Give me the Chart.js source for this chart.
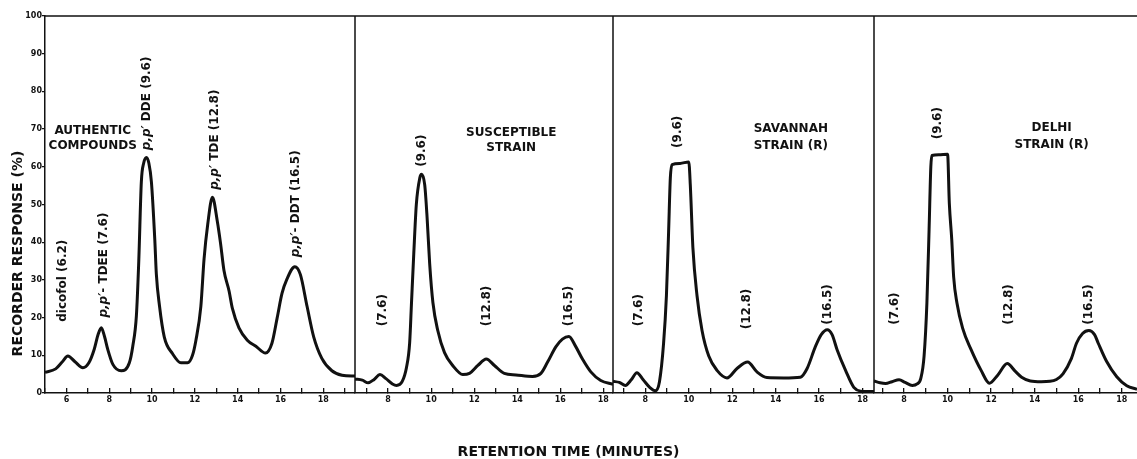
<!DOCTYPE html>
<html>
<head>
<meta charset="utf-8">
<script src="https://cdn.jsdelivr.net/npm/chart.js@4.4.0/dist/chart.umd.min.js"></script>
<style>
  html, body { margin: 0; padding: 0; background: #fff; }
  #wrap { position: relative; width: 1137px; height: 459px; }
</style>
</head>
<body>
<div id="wrap"><canvas id="myChart"></canvas></div>
<script>
"use strict"

// retention time (minutes) / recorder response (%)
const authenticTimes = [5.0, 5.5, 5.8, 6.07, 6.4, 6.77, 7.05, 7.3, 7.48, 7.63, 7.78, 7.93, 8.17, 8.56, 8.94,
  9.1, 9.27, 9.38, 9.5, 9.61, 9.74, 9.85, 9.97, 10.13, 10.2, 10.35, 10.57, 10.96, 11.35, 11.66, 11.89,
  12.05, 12.28, 12.43, 12.6, 12.82, 13.05, 13.2, 13.36, 13.6, 13.75, 14.06, 14.45, 14.85, 15.3, 15.6,
  15.84, 16.07, 16.3, 16.67, 16.93, 17.24, 17.55, 17.93, 18.4, 18.87, 19.33, 19.48];
const authenticResponse = [5.5, 6.4, 8.2, 9.8, 8.3, 6.7, 8.0, 11.6, 15.5, 17.3, 15.0, 11.6, 7.6, 5.9, 8.0,
  12.4, 20.6, 35, 56, 61, 62.5, 61, 56, 40.5, 31.6, 23.0, 14.9, 10.4, 8.0, 8.0, 10.0,
  14.0, 23.0, 35.6, 44.7, 51.9, 45.5, 39.7, 32.5, 27.0, 22.5, 17.3, 14.0, 12.4, 10.6, 13.2,
  19.8, 26.4, 30.2, 33.5, 31.4, 23.0, 14.9, 9.2, 5.9, 4.7, 4.5, 4.5];

const susceptibleTimes = [6.46, 6.8, 7.07, 7.35, 7.62, 7.9, 8.2, 8.39, 8.65, 8.85, 9.0, 9.08, 9.19, 9.31,
  9.47, 9.55, 9.7, 9.81, 9.93, 10.08, 10.31, 10.62, 11.0, 11.47, 11.78, 12.17, 12.56, 12.94, 13.4,
  13.94, 14.71, 15.1, 15.41, 15.8, 16.1, 16.4, 16.72, 17.03, 17.42, 17.88, 18.45];
const susceptibleResponse = [3.7, 3.4, 2.7, 3.6, 4.9, 3.8, 2.4, 2.0, 3.0, 6.7, 13.3, 23.2, 36.8, 50,
  57, 58, 55.2, 46.6, 34.3, 24, 16.5, 10.7, 7.3, 4.9, 5.2, 7.3, 9.0, 7.3, 5.2,
  4.8, 4.4, 5.2, 8.2, 12.3, 14.3, 15.0, 12.3, 9.0, 5.6, 3.3, 2.3];

const savannahTimes = [6.51, 6.8, 7.08, 7.35, 7.61, 7.9, 8.2, 8.46, 8.65, 8.84, 8.97, 9.07, 9.15, 9.23,
  9.6, 10.0, 10.07, 10.19, 10.38, 10.61, 10.92, 11.3, 11.76, 12.22, 12.71, 13.14, 13.6, 14.37, 15.14,
  15.45, 15.83, 16.1, 16.38, 16.6, 16.83, 17.22, 17.6, 17.91, 18.2, 18.53];
const savannahResponse = [3.1, 2.8, 2.0, 3.5, 5.4, 3.5, 1.5, 0.6, 3.0, 13.2, 25.8, 42.6, 57, 60.6,
  60.9, 61.3, 55.2, 38.5, 25.8, 16.6, 9.8, 6.0, 4.0, 6.5, 8.2, 5.6, 4.1, 4.0, 4.2,
  6.5, 12.3, 15.5, 16.8, 15.5, 11.5, 6.0, 1.5, 0.5, 0.4, 0.4];

const delhiTimes = [6.62, 6.9, 7.15, 7.45, 7.77, 8.05, 8.38, 8.6, 8.77, 8.92, 9.05, 9.15, 9.23, 9.28,
  9.6, 10.0, 10.08, 10.19, 10.28, 10.43, 10.69, 11.08, 11.54, 11.92, 12.31, 12.74, 13.1, 13.4, 13.8,
  14.3, 14.7, 15.0, 15.3, 15.69, 15.92, 16.2, 16.49, 16.75, 16.92, 17.3, 17.77, 18.23, 18.7];
const delhiResponse = [3.2, 2.7, 2.5, 3.0, 3.5, 2.8, 2.0, 2.4, 3.9, 9.8, 23.9, 43.3, 60, 63,
  63.2, 63.3, 50.3, 40.8, 30.7, 23.9, 17.2, 11.5, 6.0, 2.6, 4.8, 7.8, 5.8, 4.2, 3.2,
  3.0, 3.1, 3.6, 5.1, 9.2, 13.2, 15.8, 16.6, 15.5, 13.2, 8.4, 4.3, 1.9, 1.0];

// visible time window of each panel (minutes)
const authenticRange = [5, 19.48];
const susceptibleRange = [6.46, 18.45];
const savannahRange = [6.51, 18.53];
const delhiRange = [6.62, 18.7];

// peak labels: italic prefix, text, retention time, response level where the text starts
const authenticLabelPrefix = ["", "p,p′", "p,p′", "p,p′", "p,p′"];
const authenticLabelText = ["dicofol (6.2)", "- TDEE (7.6)", " DDE (9.6)", " TDE (12.8)", "- DDT (16.5)"];
const authenticLabelTime = [5.83, 7.74, 9.75, 12.93, 16.71];
const authenticLabelLevel = [18.9, 20, 64.4, 53.9, 36];

const susceptibleLabelText = ["(7.6)", "(9.6)", "(12.8)", "(16.5)"];
const susceptibleLabelTime = [7.75, 9.56, 12.57, 16.41];
const susceptibleLabelLevel = [17.7, 60, 17.7, 17.7];

const savannahLabelText = ["(7.6)", "(9.6)", "(12.8)", "(16.5)"];
const savannahLabelTime = [7.69, 9.49, 12.67, 16.4];
const savannahLabelLevel = [17.7, 65, 16.9, 18.1];

const delhiLabelText = ["(7.6)", "(9.6)", "(12.8)", "(16.5)"];
const delhiLabelTime = [7.58, 9.57, 12.8, 16.49];
const delhiLabelLevel = [18.1, 67.3, 18.1, 18.1];

// panel captions: two lines, centre time, level of each line
const panelCaptions = [["AUTHENTIC", "COMPOUNDS"], ["SUSCEPTIBLE", "STRAIN"], ["SAVANNAH", "STRAIN (R)"], ["DELHI", "STRAIN (R)"]];
const panelCaptionTime = [7.23, 13.72, 14.7, 14.78];
const panelCaptionLevels = [[69.5, 65.5], [69, 65], [70, 65.6], [70.3, 65.8]];

const yAxisTitle = "RECORDER RESPONSE (%)";
const xAxisTitle = "RETENTION TIME (MINUTES)";

// layout: relative widths of the four panels
const panelWidths = [310, 258, 261, 263];

const ink = '#111';
const fontFamily = "'DejaVu Sans', sans-serif";
const axisIds = ['x1', 'x2', 'x3', 'x4'];

function makeDataset(name, times, values, axisId) {
  return {
    label: name,
    data: times.map((t, i) => ({ x: t, y: values[i] })),
    xAxisID: axisId,
    yAxisID: 'y',
    borderColor: ink,
    borderWidth: 3,
    pointRadius: 0,
    fill: false,
    cubicInterpolationMode: 'monotone'
  };
}

function makeXAxis(range, width) {
  return {
    type: 'linear',
    position: 'bottom',
    stack: 'time',
    stackWeight: width,
    min: range[0],
    max: range[1],
    afterFit: scale => {
      scale.height = 22;
      scale.paddingLeft = 0;
      scale.paddingRight = 0;
    },
    border: { color: ink, width: 1.5 },
    grid: { drawOnChartArea: false, drawTicks: true, tickLength: -5, color: ink, lineWidth: 1.3 },
    ticks: {
      stepSize: 1,
      includeBounds: false,
      autoSkip: false,
      maxRotation: 0,
      padding: 7,
      color: ink,
      font: { family: fontFamily, size: 8, weight: 'bold' },
      callback: v => (v % 2 === 0 ? String(v) : '')
    }
  };
}

const panelLabels = [
  { axis: 'x1', prefix: authenticLabelPrefix, text: authenticLabelText, time: authenticLabelTime, level: authenticLabelLevel },
  { axis: 'x2', prefix: [], text: susceptibleLabelText, time: susceptibleLabelTime, level: susceptibleLabelLevel },
  { axis: 'x3', prefix: [], text: savannahLabelText, time: savannahLabelTime, level: savannahLabelLevel },
  { axis: 'x4', prefix: [], text: delhiLabelText, time: delhiLabelTime, level: delhiLabelLevel }
];

const annotationsPlugin = {
  id: 'annotations',
  afterDatasetsDraw(chart) {
    const ctx = chart.ctx;
    const area = chart.chartArea;
    const yScale = chart.scales.y;
    ctx.save();

    // top frame line and panel dividers
    ctx.strokeStyle = ink;
    ctx.lineWidth = 1.5;
    ctx.beginPath();
    ctx.moveTo(area.left, area.top);
    ctx.lineTo(area.right, area.top);
    axisIds.slice(1).forEach(id => {
      const s = chart.scales[id];
      ctx.moveTo(s.left, area.top);
      ctx.lineTo(s.left, area.bottom);
    });
    ctx.stroke();

    ctx.fillStyle = ink;
    ctx.textBaseline = 'middle';

    // vertical peak labels
    panelLabels.forEach(p => {
      const xScale = chart.scales[p.axis];
      p.text.forEach((txt, i) => {
        const px = xScale.getPixelForValue(p.time[i]);
        const py = yScale.getPixelForValue(p.level[i]);
        ctx.save();
        ctx.translate(px, py);
        ctx.rotate(-Math.PI / 2);
        ctx.textAlign = 'left';
        let offset = 0;
        const pre = p.prefix[i] || '';
        if (pre) {
          ctx.font = `italic bold 12px ${fontFamily}`;
          ctx.fillText(pre, 0, 0);
          offset = ctx.measureText(pre).width;
        }
        ctx.font = `bold 12px ${fontFamily}`;
        ctx.fillText(txt, offset, 0);
        ctx.restore();
      });
    });

    // panel captions
    ctx.font = `bold 12px ${fontFamily}`;
    ctx.textAlign = 'center';
    panelCaptions.forEach((lines, k) => {
      const xScale = chart.scales[axisIds[k]];
      const px = xScale.getPixelForValue(panelCaptionTime[k]);
      lines.forEach((line, j) => {
        ctx.fillText(line, px, yScale.getPixelForValue(panelCaptionLevels[k][j]));
      });
    });

    // y axis title
    ctx.save();
    ctx.translate(18, yScale.getPixelForValue(37));
    ctx.rotate(-Math.PI / 2);
    ctx.font = `bold 14px ${fontFamily}`;
    ctx.textAlign = 'center';
    ctx.fillText(yAxisTitle, 0, 0);
    ctx.restore();

    ctx.restore();
  }
};

const ctx = document.getElementById('myChart').getContext('2d');
const myChart = new Chart(ctx, {
  type: 'line',
  data: {
    datasets: [
      makeDataset('Authentic compounds', authenticTimes, authenticResponse, 'x1'),
      makeDataset('Susceptible strain', susceptibleTimes, susceptibleResponse, 'x2'),
      makeDataset('Savannah strain (R)', savannahTimes, savannahResponse, 'x3'),
      makeDataset('Delhi strain (R)', delhiTimes, delhiResponse, 'x4')
    ]
  },
  options: {
    responsive: true,
    maintainAspectRatio: false,
    animation: false,
    layout: { padding: { top: 16, left: 0, right: 0, bottom: 0 } },
    plugins: {
      legend: { display: false },
      tooltip: { enabled: false },
      title: {
        display: true,
        position: 'bottom',
        text: xAxisTitle,
        color: ink,
        font: { family: fontFamily, size: 14, weight: 'bold', lineHeight: 1 },
        padding: { top: 30, bottom: 0 }
      }
    },
    scales: {
      y: {
        type: 'linear',
        position: 'left',
        min: 0,
        max: 100,
        afterFit: scale => { scale.width = 45; },
        border: { color: ink, width: 1.5 },
        grid: { drawOnChartArea: false, tickLength: 3, color: ink, lineWidth: 1.3 },
        ticks: {
          stepSize: 10,
          padding: 0,
          color: ink,
          font: { family: fontFamily, size: 8, weight: 'bold' }
        }
      },
      x1: makeXAxis(authenticRange, panelWidths[0]),
      x2: makeXAxis(susceptibleRange, panelWidths[1]),
      x3: makeXAxis(savannahRange, panelWidths[2]),
      x4: makeXAxis(delhiRange, panelWidths[3])
    }
  },
  plugins: [annotationsPlugin]
});
</script>
</body>
</html>
